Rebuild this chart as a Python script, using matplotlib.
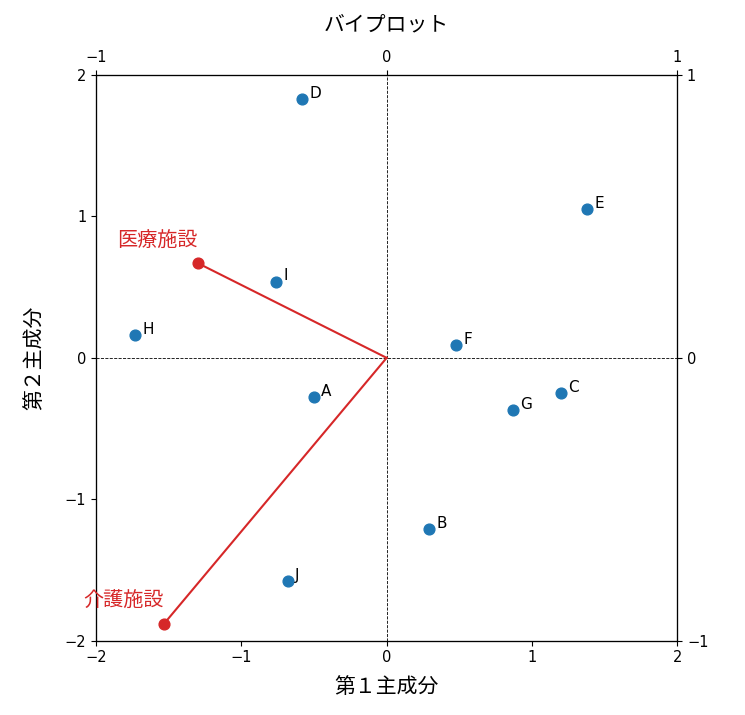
import numpy as np
import matplotlib
matplotlib.use("Agg")
import matplotlib.pyplot as plt

plt.rcParams['font.family'] = ['Noto Sans CJK JP', 'DejaVu Sans']

# --- 主成分得点 (第1, 第2) ---
names = ["A", "B", "C", "D", "E", "F", "G", "H", "I", "J"]
pc1 = [-0.50, 0.29, 1.20, -0.58, 1.38, 0.48, 0.87, -1.73, -0.76, -0.68]
pc2 = [-0.28, -1.21, -0.25, 1.83, 1.05, 0.09, -0.37, 0.16, 0.54, -1.58]

# --- 負荷量 ---
variables = ["医療施設", "介護施設"]
load1 = [-0.65, -0.766]
load2 = [0.335, -0.94]

latin = "DejaVu Sans"

fig = plt.figure(figsize=(7.45, 7.15), dpi=100)
ax = fig.add_axes([0.129, 0.104, 0.780, 0.791])

ax.scatter(pc1, pc2, s=60, color="tab:blue", zorder=3)
for n, x, y in zip(names, pc1, pc2):
    ax.text(x + 0.05, y + 0.01, n, fontsize=11, family=latin)

ax.axhline(0, color="black", ls="--", lw=0.6)
ax.axvline(0, color="black", ls="--", lw=0.6)
ax.set_xlim(-2, 2)
ax.set_ylim(-2, 2)
ax.set_xticks([-2, -1, 0, 1, 2])
ax.set_yticks([-2, -1, 0, 1, 2])
ax.set_xlabel("第１主成分", fontsize=15, labelpad=8)
ax.set_ylabel("第２主成分", fontsize=15, labelpad=14)

# 上・右の軸 (負荷量)
ax_r = ax.twinx()
ax_t = ax_r.twiny()
ax_r.set_ylim(-1, 1)
ax_t.set_xlim(-1, 1)
ax_r.set_yticks([-1, 0, 1])
ax_t.set_xticks([-1, 0, 1])

for a in (ax, ax_r, ax_t):
    a.tick_params(labelsize=10.5)
    for lab in a.get_xticklabels() + a.get_yticklabels():
        lab.set_family(latin)

for v, x, y in zip(variables, load1, load2):
    ax_t.plot([0, x], [0, y], color="tab:red", lw=1.5)
    ax_t.scatter([x], [y], s=60, color="tab:red", zorder=3)
    ax_t.text(x, y + 0.04, v, color="tab:red", fontsize=14.5,
              ha="right", va="bottom")

ax_t.set_title("バイプロット", fontsize=15, pad=14)

plt.savefig("out.png", dpi=100)
